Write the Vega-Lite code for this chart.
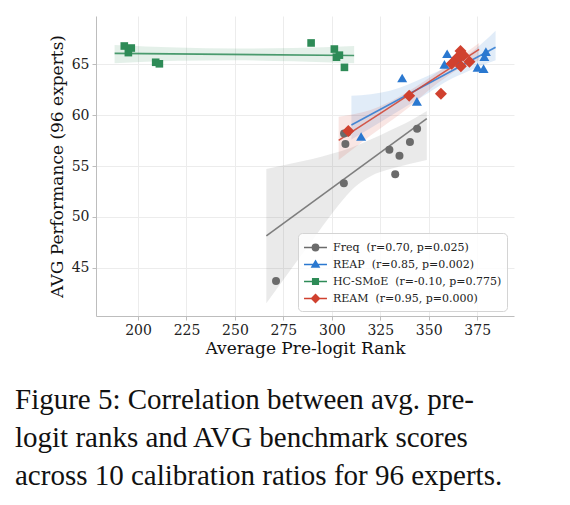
{
  "$schema": "https://vega.github.io/schema/vega-lite/v6.json",
  "width": 418,
  "height": 300,
  "autosize": {"type": "none"},
  "padding": {"left": 96, "top": 16, "right": 56, "bottom": 189},
  "title": {
    "text": [
      "Figure 5: Correlation between avg. pre-",
      "logit ranks and AVG benchmark scores",
      "across 10 calibration ratios for 96 experts."
    ],
    "orient": "bottom",
    "anchor": "start",
    "frame": "group",
    "dx": -81,
    "offset": 30,
    "font": "Liberation Serif",
    "fontSize": 29,
    "fontWeight": "normal",
    "lineHeight": 38,
    "color": "#111111"
  },
  "datasets": {
    "points": [
      {"method": "Freq", "rank": 271.2, "avg": 43.7},
      {"method": "Freq", "rank": 306.2, "avg": 53.3},
      {"method": "Freq", "rank": 306.3, "avg": 58.2},
      {"method": "Freq", "rank": 307.0, "avg": 57.16},
      {"method": "Freq", "rank": 308.0, "avg": 58.3},
      {"method": "Freq", "rank": 329.7, "avg": 56.6},
      {"method": "Freq", "rank": 332.7, "avg": 54.2},
      {"method": "Freq", "rank": 334.9, "avg": 56.0},
      {"method": "Freq", "rank": 340.3, "avg": 57.36},
      {"method": "Freq", "rank": 344.0, "avg": 58.67},
      {"method": "REAP", "rank": 315.1, "avg": 57.9},
      {"method": "REAP", "rank": 336.3, "avg": 63.65},
      {"method": "REAP", "rank": 343.9, "avg": 61.36},
      {"method": "REAP", "rank": 358.1, "avg": 65.0},
      {"method": "REAP", "rank": 359.5, "avg": 66.04},
      {"method": "REAP", "rank": 365.5, "avg": 65.4},
      {"method": "REAP", "rank": 375.2, "avg": 64.7},
      {"method": "REAP", "rank": 378.3, "avg": 64.57},
      {"method": "REAP", "rank": 378.7, "avg": 65.75},
      {"method": "REAP", "rank": 379.5, "avg": 66.24},
      {"method": "HC-SMoE", "rank": 192.9, "avg": 66.8},
      {"method": "HC-SMoE", "rank": 195.0, "avg": 66.15},
      {"method": "HC-SMoE", "rank": 196.5, "avg": 66.6},
      {"method": "HC-SMoE", "rank": 209.1, "avg": 65.2},
      {"method": "HC-SMoE", "rank": 211.0, "avg": 65.05},
      {"method": "HC-SMoE", "rank": 289.3, "avg": 67.1},
      {"method": "HC-SMoE", "rank": 301.3, "avg": 66.5},
      {"method": "HC-SMoE", "rank": 302.4, "avg": 65.7},
      {"method": "HC-SMoE", "rank": 303.9, "avg": 65.9},
      {"method": "HC-SMoE", "rank": 306.5, "avg": 64.7},
      {"method": "REAM", "rank": 308.5, "avg": 58.44},
      {"method": "REAM", "rank": 339.9, "avg": 61.9},
      {"method": "REAM", "rank": 356.3, "avg": 62.1},
      {"method": "REAM", "rank": 361.8, "avg": 65.05},
      {"method": "REAM", "rank": 364.5, "avg": 65.6},
      {"method": "REAM", "rank": 365.9, "avg": 65.75},
      {"method": "REAM", "rank": 366.4, "avg": 66.3},
      {"method": "REAM", "rank": 366.6, "avg": 64.8},
      {"method": "REAM", "rank": 367.9, "avg": 65.9},
      {"method": "REAM", "rank": 371.0, "avg": 65.25}
    ],
    "bands": [
      {"method": "Freq", "rank": 266.2, "lo": 41.5, "hi": 54.7},
      {"method": "Freq", "rank": 278, "lo": 44.6, "hi": 55.2},
      {"method": "Freq", "rank": 290, "lo": 47.7, "hi": 55.7},
      {"method": "Freq", "rank": 300, "lo": 50.3, "hi": 56.2},
      {"method": "Freq", "rank": 310, "lo": 52.6, "hi": 56.8},
      {"method": "Freq", "rank": 320, "lo": 54.0, "hi": 57.6},
      {"method": "Freq", "rank": 330, "lo": 54.7, "hi": 58.5},
      {"method": "Freq", "rank": 340, "lo": 55.2, "hi": 59.4},
      {"method": "Freq", "rank": 349, "lo": 55.6, "hi": 60.4},
      {"method": "REAP", "rank": 310.1, "lo": 57.6, "hi": 61.9},
      {"method": "REAP", "rank": 330, "lo": 59.9, "hi": 62.4},
      {"method": "REAP", "rank": 350, "lo": 62.2, "hi": 63.9},
      {"method": "REAP", "rank": 360, "lo": 63.4, "hi": 64.8},
      {"method": "REAP", "rank": 370, "lo": 64.3, "hi": 65.9},
      {"method": "REAP", "rank": 384.5, "lo": 65.4, "hi": 68.3},
      {"method": "HC-SMoE", "rank": 187.9, "lo": 65.1, "hi": 66.9},
      {"method": "HC-SMoE", "rank": 220, "lo": 65.35, "hi": 66.65},
      {"method": "HC-SMoE", "rank": 250, "lo": 65.4, "hi": 66.55},
      {"method": "HC-SMoE", "rank": 280, "lo": 65.3, "hi": 66.6},
      {"method": "HC-SMoE", "rank": 311.5, "lo": 65.1, "hi": 66.8},
      {"method": "REAM", "rank": 303.5, "lo": 55.6, "hi": 59.85},
      {"method": "REAM", "rank": 320, "lo": 58.0, "hi": 60.5},
      {"method": "REAM", "rank": 340, "lo": 60.8, "hi": 62.4},
      {"method": "REAM", "rank": 355, "lo": 63.2, "hi": 64.3},
      {"method": "REAM", "rank": 365, "lo": 64.5, "hi": 65.6},
      {"method": "REAM", "rank": 376.0, "lo": 65.4, "hi": 67.1}
    ]
  },
  "encoding": {
    "x": {
      "field": "rank",
      "type": "quantitative",
      "title": "Average Pre-logit Rank",
      "scale": {"domain": [178.3, 394], "nice": false, "zero": false},
      "axis": {"values": [200, 225, 250, 275, 300, 325, 350, 375], "titlePadding": 3}
    }
  },
  "layer": [
    {
      "data": {"name": "bands"},
      "transform": [{"filter": "datum.method === 'Freq'"}],
      "mark": {"type": "area", "interpolate": "monotone", "color": "#6b6b6b", "opacity": 0.14},
      "encoding": {
        "y": {"field": "lo", "type": "quantitative"},
        "y2": {"field": "hi"}
      }
    },
    {
      "data": {"name": "bands"},
      "transform": [{"filter": "datum.method === 'REAP'"}],
      "mark": {"type": "area", "interpolate": "monotone", "color": "#2a78d0", "opacity": 0.14},
      "encoding": {
        "y": {"field": "lo", "type": "quantitative"},
        "y2": {"field": "hi"}
      }
    },
    {
      "data": {"name": "bands"},
      "transform": [{"filter": "datum.method === 'HC-SMoE'"}],
      "mark": {"type": "area", "interpolate": "monotone", "color": "#2e8b57", "opacity": 0.13},
      "encoding": {
        "y": {"field": "lo", "type": "quantitative"},
        "y2": {"field": "hi"}
      }
    },
    {
      "data": {"name": "bands"},
      "transform": [{"filter": "datum.method === 'REAM'"}],
      "mark": {"type": "area", "interpolate": "monotone", "color": "#d0412f", "opacity": 0.13},
      "encoding": {
        "y": {"field": "lo", "type": "quantitative"},
        "y2": {"field": "hi"}
      }
    },
    {
      "data": {"name": "points"},
      "transform": [
        {"filter": "datum.method === 'Freq'"},
        {"regression": "avg", "on": "rank", "extent": [266.2, 349.0]}
      ],
      "mark": {"type": "line", "strokeWidth": 1.6, "color": "#6b6b6b", "opacity": 0.85},
      "encoding": {"y": {"field": "avg", "type": "quantitative"}}
    },
    {
      "data": {"name": "points"},
      "transform": [
        {"filter": "datum.method === 'REAP'"},
        {"regression": "avg", "on": "rank", "extent": [310.1, 384.5]}
      ],
      "mark": {"type": "line", "strokeWidth": 1.6, "color": "#2a78d0", "opacity": 0.85},
      "encoding": {"y": {"field": "avg", "type": "quantitative"}}
    },
    {
      "data": {"name": "points"},
      "transform": [
        {"filter": "datum.method === 'HC-SMoE'"},
        {"regression": "avg", "on": "rank", "extent": [187.9, 311.5]}
      ],
      "mark": {"type": "line", "strokeWidth": 1.6, "color": "#2e8b57", "opacity": 0.85},
      "encoding": {"y": {"field": "avg", "type": "quantitative"}}
    },
    {
      "data": {"name": "points"},
      "transform": [
        {"filter": "datum.method === 'REAM'"},
        {"regression": "avg", "on": "rank", "extent": [303.5, 376.0]}
      ],
      "mark": {"type": "line", "strokeWidth": 1.6, "color": "#d0412f", "opacity": 0.85},
      "encoding": {"y": {"field": "avg", "type": "quantitative"}}
    },
    {
      "data": {"name": "points"},
      "transform": [{"filter": "datum.method === 'Freq'"}],
      "mark": {"type": "point", "shape": "circle", "size": 64, "filled": true, "opacity": 1},
      "encoding": {
        "y": {
          "field": "avg",
          "type": "quantitative",
          "title": "AVG Performance (96 experts)",
          "scale": {"domain": [40.25, 69.75], "nice": false, "zero": false},
          "axis": {"values": [45, 50, 55, 60, 65]}
        },
        "color": {
          "field": "method",
          "type": "nominal",
          "sort": ["Freq", "REAP", "HC-SMoE", "REAM"],
          "scale": {
            "domain": ["Freq", "REAP", "HC-SMoE", "REAM"],
            "range": ["#6b6b6b", "#2a78d0", "#2e8b57", "#d0412f"]
          },
          "legend": {
            "title": null,
            "orient": "none",
            "legendX": 202,
            "legendY": 217,
            "padding": 5,
            "fillColor": "rgba(255,255,255,0.85)",
            "strokeColor": "#d4d4d4",
            "cornerRadius": 4,
            "labelFont": "DejaVu Serif",
            "labelFontSize": 11,
            "labelColor": "#222222",
            "labelLimit": 300,
            "symbolOffset": 3,
            "labelOffset": 8,
            "rowPadding": 1,
            "symbolSize": 289,
            "symbolStrokeWidth": 1.5,
            "symbolOpacity": 1,
            "symbolType": {"expr": "datum.value === 'Freq' ? 'M-1.35,0H1.35M0.37,0A0.37,0.37,0,1,1,-0.37,0A0.37,0.37,0,1,1,0.37,0Z' : datum.value === 'REAP' ? 'M-1.35,0H1.35M0,-0.42L0.42,0.3L-0.42,0.3Z' : datum.value === 'HC-SMoE' ? 'M-1.35,0H1.35M-0.33,-0.33H0.33V0.33H-0.33Z' : 'M-1.35,0H1.35M0,-0.46L0.46,0L0,0.46L-0.46,0Z'"},
            "symbolStrokeColor": {"expr": "scale('color', datum.value)"},
            "labelExpr": "datum.value === 'Freq' ? 'Freq\u00a0 (r=0.70, p=0.025)' : datum.value === 'REAP' ? 'REAP\u00a0 (r=0.85, p=0.002)' : datum.value === 'HC-SMoE' ? 'HC-SMoE\u00a0 (r=-0.10, p=0.775)' : 'REAM\u00a0 (r=0.95, p=0.000)'"
          }
        }
      }
    },
    {
      "data": {"name": "points"},
      "transform": [{"filter": "datum.method === 'REAP'"}],
      "mark": {"type": "point", "shape": "triangle-up", "size": 100, "filled": true, "opacity": 1},
      "encoding": {
        "y": {"field": "avg", "type": "quantitative"},
        "color": {"field": "method", "type": "nominal"}
      }
    },
    {
      "data": {"name": "points"},
      "transform": [{"filter": "datum.method === 'HC-SMoE'"}],
      "mark": {"type": "point", "shape": "square", "size": 58, "filled": true, "opacity": 1},
      "encoding": {
        "y": {"field": "avg", "type": "quantitative"},
        "color": {"field": "method", "type": "nominal"}
      }
    },
    {
      "data": {"name": "points"},
      "transform": [{"filter": "datum.method === 'REAM'"}],
      "mark": {"type": "point", "shape": "diamond", "size": 144, "filled": true, "opacity": 1},
      "encoding": {
        "y": {"field": "avg", "type": "quantitative"},
        "color": {"field": "method", "type": "nominal"}
      }
    }
  ],
  "config": {
    "font": "DejaVu Serif",
    "view": {"stroke": null},
    "axis": {
      "labelFont": "DejaVu Serif",
      "labelFontSize": 14,
      "labelColor": "#222222",
      "titleFont": "DejaVu Serif",
      "titleFontSize": 17,
      "titleFontWeight": "normal",
      "titleColor": "#111111",
      "gridColor": "#ececec",
      "domainColor": "#bdbdbd",
      "tickColor": "#bdbdbd",
      "tickSize": 4,
      "labelPadding": 3,
      "titlePadding": 5
    }
  }
}
